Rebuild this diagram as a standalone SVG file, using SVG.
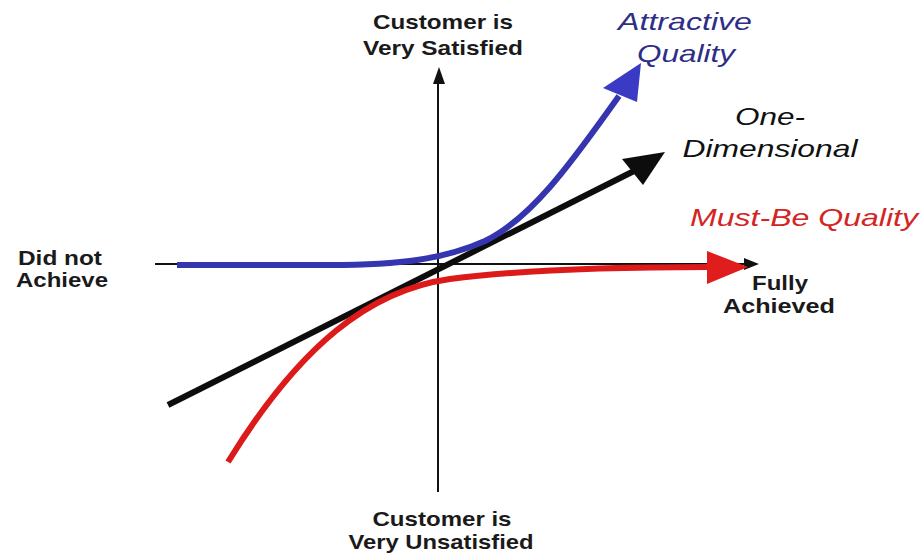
<svg xmlns="http://www.w3.org/2000/svg" width="923" height="553" viewBox="0 0 923 553">
  <style>
    .axis { stroke: #111; stroke-width: 2; fill: none; }
    .curve { fill: none; stroke-width: 6; stroke-linecap: butt; }
    .lbl { font-family: "Liberation Sans", Arial, sans-serif; font-weight: bold; font-size: 21px; fill: #1a1a1a; text-anchor: middle; }
    .ital { font-family: "Liberation Sans", Arial, sans-serif; font-style: italic; font-size: 24px; text-anchor: middle; }
  </style>

  <rect width="923" height="553" fill="#ffffff"/>

  <!-- axes -->
  <g id="axes">
    <line class="axis" x1="438" y1="492" x2="438" y2="80"/>
    <polygon points="439,67 445,84 433,84" fill="#111"/>
    <line class="axis" x1="155" y1="264" x2="746" y2="264"/>
    <polygon points="759,264 744,258 744,270" fill="#111"/>
  </g>

  <!-- quality curves -->
  <g id="connectors">
    <!-- one-dimensional: straight line -->
    <path id="one-dimensional" class="curve" stroke="#0d0d0d" d="M168,405 L634,171"/>
    <polygon points="665,152 622,159 643,185" fill="#0d0d0d"/>

    <!-- must-be: rises steeply, then levels off -->
    <path id="must-be" class="curve" stroke="#dd1a1a" stroke-width="6.5" d="M228,462 C300,345 370,290 450,279 C520,270 600,267 709,267"/>
    <polygon points="707,251 748,267 707,284" fill="#e01c1c"/>

    <!-- attractive: flat, then rises steeply -->
    <path id="attractive" class="curve" stroke="#3535b0" d="M177,265 L330,265 C400,265 445,259 485,241 C535,217 580,150 619,96"/>
    <polygon points="641,63 603,88 637,102" fill="#3a3ac4"/>
  </g>

  <!-- axis labels -->
  <g id="label-top">
    <text class="lbl" x="443" y="29" textLength="140" lengthAdjust="spacingAndGlyphs">Customer is</text>
    <text class="lbl" x="443" y="55" textLength="160" lengthAdjust="spacingAndGlyphs">Very Satisfied</text>
  </g>
  <g id="label-bottom">
    <text class="lbl" x="442" y="526" textLength="139" lengthAdjust="spacingAndGlyphs">Customer is</text>
    <text class="lbl" x="441" y="549" textLength="185" lengthAdjust="spacingAndGlyphs">Very Unsatisfied</text>
  </g>
  <g id="label-left">
    <text class="lbl" x="60" y="265" textLength="84" lengthAdjust="spacingAndGlyphs">Did not</text>
    <text class="lbl" x="62" y="287" textLength="92" lengthAdjust="spacingAndGlyphs">Achieve</text>
  </g>
  <g id="label-right">
    <text class="lbl" x="780" y="290" textLength="56" lengthAdjust="spacingAndGlyphs">Fully</text>
    <text class="lbl" x="779" y="313" textLength="112" lengthAdjust="spacingAndGlyphs">Achieved</text>
  </g>

  <!-- curve names -->
  <g id="name-attractive" fill="#2e2e86">
    <text class="ital" x="685" y="30" textLength="134" lengthAdjust="spacingAndGlyphs">Attractive</text>
    <text class="ital" x="686" y="62" textLength="98" lengthAdjust="spacingAndGlyphs">Quality</text>
  </g>
  <g id="name-one-dimensional" fill="#111">
    <text class="ital" x="770" y="125" textLength="70" lengthAdjust="spacingAndGlyphs">One-</text>
    <text class="ital" x="770" y="157" textLength="175" lengthAdjust="spacingAndGlyphs">Dimensional</text>
  </g>
  <g id="name-must-be" fill="#d42525">
    <text class="ital" x="804" y="226" textLength="228" lengthAdjust="spacingAndGlyphs">Must-Be Quality</text>
  </g>
</svg>
